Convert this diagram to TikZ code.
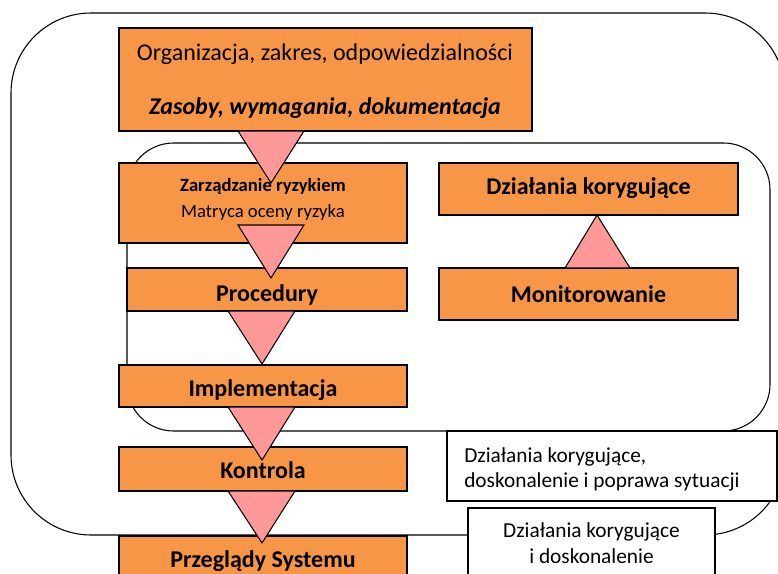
\documentclass[tikz,border=0pt]{standalone}
\usepackage{fontspec}
\setmainfont{Carlito}
\definecolor{boxorange}{HTML}{F79646}
\definecolor{tripink}{HTML}{FF9999}
\begin{document}
\begin{tikzpicture}[x=0.75pt,y=-0.75pt,
  frameline/.style={draw=black,line width=0.8pt},
  obox/.style={draw=black,fill=boxorange,line width=0.8pt,inner sep=0pt},
  tbox/.style={draw=black,fill=white,line width=0.8pt,inner sep=0pt},
  big/.style={inner sep=0pt,anchor=base,font=\fontsize{18}{22}\selectfont\bfseries},
  small/.style={inner sep=0pt,anchor=base,font=\fontsize{14}{17}\selectfont},
  note/.style={inner sep=0pt,anchor=base,font=\fontsize{16}{19.5}\selectfont},
  tri/.style={draw=black,fill=tripink,line width=0.8pt,line join=miter}]
\useasboundingbox (0,0) rectangle (778,574);
% frames
\draw[frameline,rounded corners=60pt] (11,13) rectangle (785,535);
\draw[frameline,fill=white,rounded corners=35pt] (127,143) rectangle (770,431);
% boxes
\node[obox,minimum width=309.75pt,minimum height=77.25pt] (org) at (325.5,79.5) {};
\node[obox,minimum width=216pt,minimum height=60pt] (risk) at (263,203) {};
\node[obox,minimum width=210pt,minimum height=32.25pt] (proc) at (267,289.5) {};
\node[obox,minimum width=216pt,minimum height=31.5pt] (impl) at (263,386) {};
\node[obox,minimum width=216pt,minimum height=33pt] (kontr) at (263,469) {};
\node[obox,minimum width=216pt,minimum height=33pt] (przeg) at (263,558) {};
\node[obox,minimum width=224.25pt,minimum height=39pt] (dk) at (588.5,189) {};
\node[obox,minimum width=224.25pt,minimum height=39pt] (mon) at (588.5,294) {};
% triangles
\draw[tri] (238,131) -- (304,131) -- (271,183) -- cycle;
\draw[tri] (238,225) -- (304,225) -- (271,278) -- cycle;
\draw[tri] (228,311) -- (295,311) -- (262,364) -- cycle;
\draw[tri] (228,407) -- (295,407) -- (262,460) -- cycle;
\draw[tri] (228,491) -- (295,491) -- (262,543) -- cycle;
\draw[tri] (565,268) -- (630,268) -- (597,215) -- cycle;
% texts in boxes
\node[big,font=\fontsize{18}{22}\selectfont] (orgA) at (325,61) {Organizacja, zakres, odpowiedzialności};
\node[big,font=\fontsize{18}{22}\selectfont\bfseries\itshape] (orgB) at (325,115) {Zasoby, wymagania, dokumentacja};
\node[small,font=\fontsize{14}{17}\selectfont\bfseries] (riskA) at (263,191) {Zarządzanie ryzykiem};
\node[small] (riskB) at (263,218) {Matryca oceny ryzyka};
\node[big] (procT) at (267,301) {Procedury};
\node[big] (implT) at (263,396) {Implementacja};
\node[big] (kontrT) at (263,478) {Kontrola};
\node[big] (przegT) at (263,567) {Przeglądy Systemu};
\node[big] (dkT) at (588.5,195) {Działania korygujące};
\node[big] (monT) at (588.5,302) {Monitorowanie};
% text boxes
\node[tbox,minimum width=247.5pt,minimum height=52.5pt] (tb1) at (612,466) {};
\node[note,anchor=base west] (tb1A) at (464,462) {Działania korygujące,};
\node[note,anchor=base west] (tb1B) at (464,487) {doskonalenie i poprawa sytuacji};
\node[tbox,minimum width=185.25pt,minimum height=54pt] (tb2) at (591.5,544) {};
\node[note] (tb2A) at (591.5,537) {Działania korygujące};
\node[note] (tb2B) at (591.5,563) {i doskonalenie};
\end{tikzpicture}
\end{document}
